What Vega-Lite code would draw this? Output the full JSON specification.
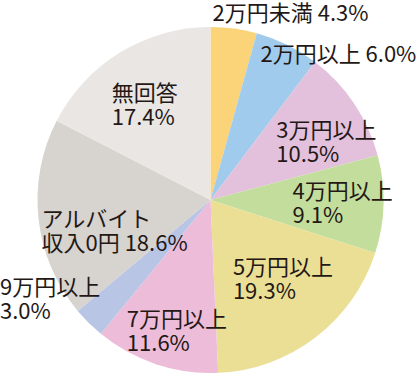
{
  "$schema": "https://vega.github.io/schema/vega-lite/v6.json",
  "width": 417,
  "height": 348,
  "autosize": {"type": "none"},
  "padding": {"left": 2, "top": 26, "right": 0, "bottom": 0},
  "background": "white",
  "config": {"view": {"stroke": null}, "text": {"font": "Noto Sans CJK JP", "fontSize": 22, "fontWeight": "normal", "color": "#231815", "lineBreak": "\n", "lineHeight": 24, "align": "left", "baseline": "middle"}},
  "data": {
    "values": [
      {"category": "2万円未満", "value": 4.3, "label": "2万円未満 4.3%"},
      {"category": "2万円以上", "value": 6.0, "label": "2万円以上 6.0%"},
      {"category": "3万円以上", "value": 10.5, "label": "3万円以上\n10.5%"},
      {"category": "4万円以上", "value": 9.1, "label": "4万円以上\n9.1%"},
      {"category": "5万円以上", "value": 19.3, "label": "5万円以上\n19.3%"},
      {"category": "7万円以上", "value": 11.6, "label": "7万円以上\n11.6%"},
      {"category": "9万円以上", "value": 3.0, "label": "9万円以上\n3.0%"},
      {"category": "アルバイト収入0円", "value": 18.6, "label": "アルバイト\n収入0円 18.6%"},
      {"category": "無回答", "value": 17.4, "label": "無回答\n17.4%"}
    ]
  },
  "transform": [{"window": [{"op": "row_number", "as": "rank"}]}],
  "encoding": {
    "theta": {"field": "value", "type": "quantitative", "stack": true},
    "order": {"field": "rank", "type": "quantitative"}
  },
  "layer": [
    {
      "mark": {"type": "arc", "outerRadius": 173},
      "encoding": {
        "color": {
          "field": "category",
          "type": "nominal",
          "legend": null,
          "scale": {
            "domain": ["2万円未満", "2万円以上", "3万円以上", "4万円以上", "5万円以上", "7万円以上", "9万円以上", "アルバイト収入0円", "無回答"],
            "range": ["#FBD378", "#A0CBEC", "#E3C1DC", "#C3DE9C", "#EBDF95", "#EDBCD8", "#B9C5E5", "#D7D3CF", "#E9E6E3"]
          }
        }
      }
    },
    {
      "mark": {"type": "text", "radius": 185.6, "dx": -23, "dy": -2},
      "encoding": {"text": {"condition": {"test": "datum.category === '2万円未満'", "field": "label"}, "value": ""}}
    },
    {
      "mark": {"type": "text", "radius": 152, "dx": -17.5, "dy": -8.6},
      "encoding": {"text": {"condition": {"test": "datum.category === '2万円以上'", "field": "label"}, "value": ""}}
    },
    {
      "mark": {"type": "text", "radius": 86.6, "dx": -6, "dy": -20.5},
      "encoding": {"text": {"condition": {"test": "datum.category === '3万円以上'", "field": "label"}, "value": ""}}
    },
    {
      "mark": {"type": "text", "radius": 82, "dx": 0, "dy": -10.5},
      "encoding": {"text": {"condition": {"test": "datum.category === '4万円以上'", "field": "label"}, "value": ""}}
    },
    {
      "mark": {"type": "text", "radius": 76.5, "dx": -24, "dy": 7.5},
      "encoding": {"text": {"condition": {"test": "datum.category === '5万円以上'", "field": "label"}, "value": ""}}
    },
    {
      "mark": {"type": "text", "radius": 151, "dx": -36, "dy": -23.5},
      "encoding": {"text": {"condition": {"test": "datum.category === '7万円以上'", "field": "label"}, "value": ""}}
    },
    {
      "mark": {"type": "text", "radius": 219.5, "dx": -56, "dy": -67.5},
      "encoding": {"text": {"condition": {"test": "datum.category === '9万円以上'", "field": "label"}, "value": ""}}
    },
    {
      "mark": {"type": "text", "radius": 168.5, "dx": -1.5, "dy": 1.5},
      "encoding": {"text": {"condition": {"test": "datum.category === 'アルバイト収入0円'", "field": "label"}, "value": ""}}
    },
    {
      "mark": {"type": "text", "radius": 132, "dx": -30, "dy": 6.5},
      "encoding": {"text": {"condition": {"test": "datum.category === '無回答'", "field": "label"}, "value": ""}}
    }
  ]
}
